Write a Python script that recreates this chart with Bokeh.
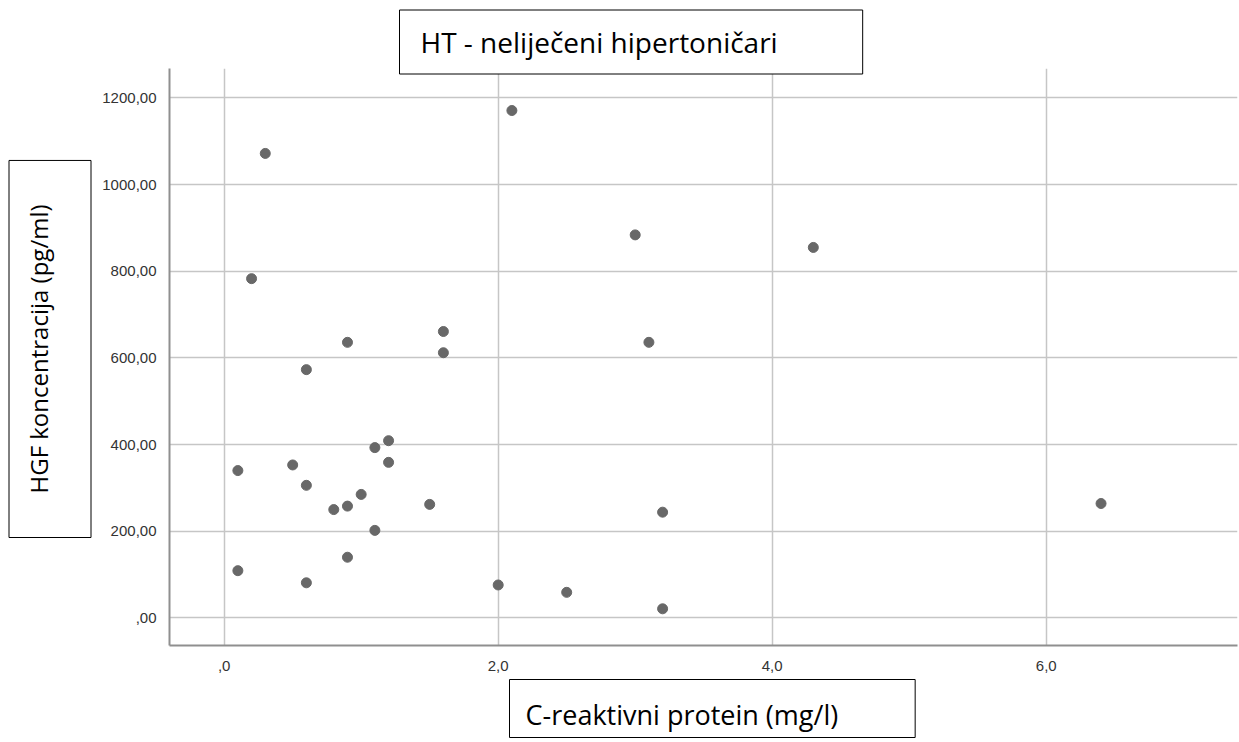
from bokeh.plotting import figure
from bokeh.models import Range1d, FixedTicker, Title
from bokeh.embed import file_html
from bokeh.resources import INLINE

# --- data ---
crp = [0.1, 0.1, 0.2, 0.3, 0.5, 0.6, 0.6, 0.6, 0.8, 0.9, 0.9, 0.9, 1.0, 1.1, 1.1,
       1.2, 1.2, 1.5, 1.6, 1.6, 2.0, 2.1, 2.5, 3.0, 3.1, 3.2, 3.2, 4.3, 6.4]
hgf = [340, 109, 783, 1072, 353, 573, 306, 81, 250, 636, 258, 140, 285, 393, 202,
       409, 359, 262, 661, 612, 76, 1171, 59, 884, 636, 244, 21, 855, 264]

x_ticks = [0, 2, 4, 6]
x_tick_labels = [",0", "2,0", "4,0", "6,0"]
y_ticks = [0, 200, 400, 600, 800, 1000, 1200]
y_tick_labels = [",00", "200,00", "400,00", "600,00", "800,00", "1000,00", "1200,00"]

title_text = "HT - neliječeni hipertoničari"
x_label_text = "C-reaktivni protein (mg/l)"
y_label_text = "HGF koncentracija (pg/ml)"

p = figure(width=1239, height=742, output_backend="svg", toolbar_location=None,
           x_range=Range1d(-0.399, 7.396), y_range=Range1d(-63.7, 1268),
           min_border_left=169, min_border_right=2, min_border_top=68, min_border_bottom=97,
           background_fill_color="white", border_fill_color="white")
p.outline_line_color = None

p.scatter(crp, hgf, size=10, color="#686868", line_color="#686868")

# axes
p.xaxis.ticker = FixedTicker(ticks=x_ticks)
p.yaxis.ticker = FixedTicker(ticks=y_ticks)
p.xaxis.major_label_overrides = {t: l for t, l in zip(x_ticks, x_tick_labels)}
p.yaxis.major_label_overrides = {t: l for t, l in zip(y_ticks, y_tick_labels)}
for ax in (p.xaxis, p.yaxis):
    ax.axis_line_color = "#8f8f8f"
    ax.axis_line_width = 2
    ax.major_tick_line_color = None
    ax.minor_tick_line_color = None
    ax.major_label_text_font = "Liberation Sans"
    ax.major_label_text_font_size = "15px"
    ax.major_label_text_color = "#333333"
p.yaxis.major_label_standoff = 7
p.xaxis.major_label_standoff = 9

p.xgrid.ticker = FixedTicker(ticks=x_ticks)
p.ygrid.ticker = FixedTicker(ticks=y_ticks)
for g in (p.xgrid, p.ygrid):
    g.grid_line_color = "#c6c6c6"
    g.grid_line_width = 1.5

common = dict(text_font="Open Sans", text_font_style="normal", text_color="black",
              border_line_color="black", border_line_width=1,
              background_fill_color="white")

t_top = Title(text=title_text, align="left", offset=230, standoff=-11,
              text_font_size="28px",
              padding=dict(left=21, right=85, top=13, bottom=13), **common)
p.add_layout(t_top, "above")

t_left = Title(text=y_label_text, align="left", offset=108, standoff=-24,
               vertical_align="middle", text_font_size="24px",
               padding=dict(left=44, right=44, top=13, bottom=36), **common)
p.add_layout(t_left, "left")

t_below = Title(text=x_label_text, align="left", offset=340, standoff=8,
                text_font_size="27px",
                padding=dict(left=16, right=77, top=16, bottom=5), **common)
p.add_layout(t_below, "below")

open("out.html", "w").write(file_html(p, INLINE))
